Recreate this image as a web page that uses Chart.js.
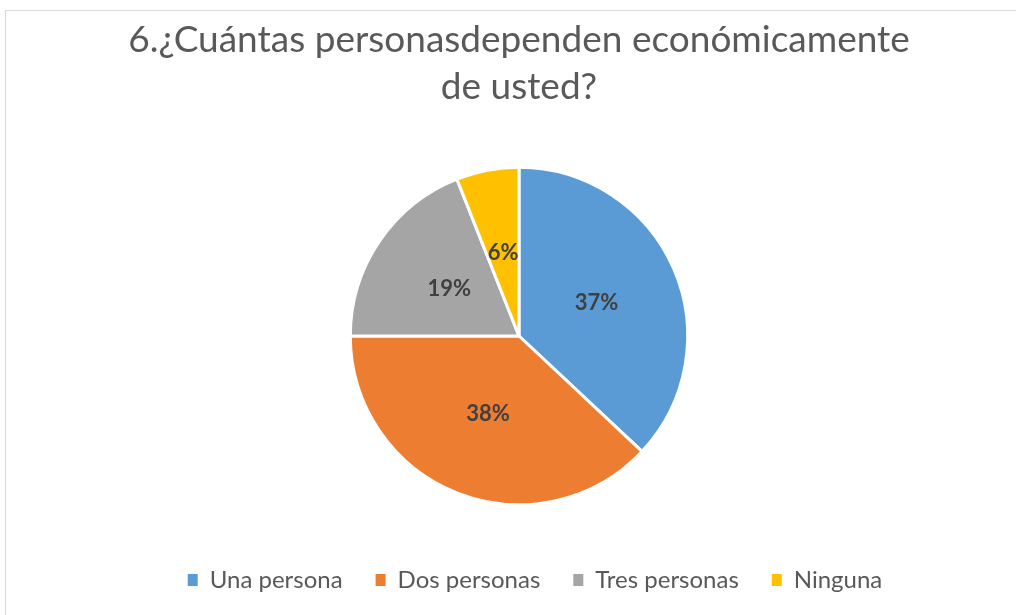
<!DOCTYPE html>
<html>
<head>
<meta charset="utf-8">
<script src="https://cdn.jsdelivr.net/npm/chart.js@4"></script>
<style>
  html, body { margin: 0; padding: 0; background: #fff; }
  .frame { position: absolute; left: 5px; top: 10px; width: 1100px; height: 700px;
           border-top: 1px solid #d9d9d9; border-left: 1px solid #d9d9d9; }
  .wrap { position: absolute; left: 0; top: 0; width: 1016px; height: 615px; }
</style>
</head>
<body>
<div class="frame"></div>
<div class="wrap"><canvas id="pieChart"></canvas></div>
<script>
// Datos del gráfico
const categories = ['Una persona', 'Dos personas', 'Tres personas', 'Ninguna'];
const percentValues = [37, 38, 19, 6];
const sliceColors = ['#5B9BD5', '#ED7D31', '#A5A5A5', '#FFC000'];

const FONT = 'Lato, "Open Sans", sans-serif';

// etiquetas de porcentaje dentro de cada sector
const pctLabels = {
  id: 'pctLabels',
  afterDatasetsDraw(chart) {
    const ctx = chart.ctx;
    const meta = chart.getDatasetMeta(0);
    meta.data.forEach((arc, i) => {
      const pos = arc.tooltipPosition();
      ctx.save();
      ctx.textAlign = 'center';
      ctx.textBaseline = 'middle';
      ctx.font = 'bold 22px ' + FONT;
      ctx.fillStyle = '#404040';
      ctx.fillText(percentValues[i] + '%', pos.x, pos.y);
      ctx.restore();
    });
  }
};

// la leyenda está un poco a la derecha del centro del gráfico
const legendShift = {
  id: 'legendShift',
  afterLayout(chart) {
    chart.legend.left += 16;
    chart.legend.right += 16;
  }
};

new Chart(document.getElementById('pieChart'), {
  type: 'pie',
  data: {
    labels: categories,
    datasets: [{
      data: percentValues,
      backgroundColor: sliceColors,
      borderColor: '#ffffff',
      borderWidth: 3
    }]
  },
  options: {
    responsive: true,
    maintainAspectRatio: false,
    animation: false,
    radius: '85.4%',
    layout: { padding: { left: 22, right: 0, top: 0, bottom: 13 } },
    plugins: {
      title: {
        display: true,
        text: ['6.¿Cuántas personasdependen económicamente', 'de usted?'],
        color: '#595959',
        font: { family: FONT, size: 37, weight: 'normal', lineHeight: 1.27 },
        padding: { top: 17, bottom: 26 }
      },
      legend: {
        position: 'bottom',
        labels: {
          color: '#595959',
          font: { family: FONT, size: 24 },
          boxWidth: 10,
          boxHeight: 12,
          padding: 33,
          // cuadros sin el borde blanco de los sectores
          generateLabels: (chart) =>
            Chart.overrides.pie.plugins.legend.labels.generateLabels(chart)
              .map(item => ({ ...item, lineWidth: 0 }))
        }
      },
      tooltip: { enabled: false }
    }
  },
  plugins: [pctLabels, legendShift]
});
</script>
</body>
</html>
